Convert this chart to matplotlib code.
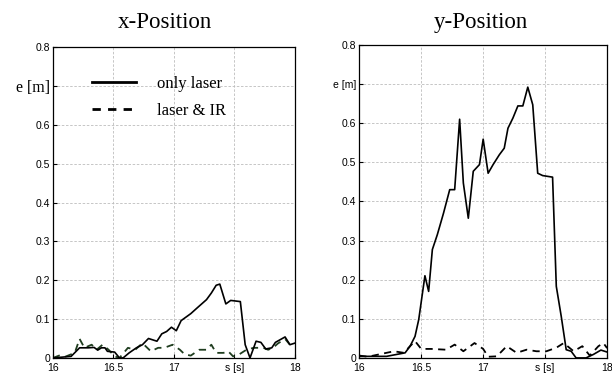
import matplotlib
matplotlib.use("Agg")
import matplotlib.pyplot as plt

# x-Position, only laser
xs_laser = [16.0, 16.15, 16.22, 16.29, 16.34, 16.37, 16.40, 16.43, 16.45, 16.51, 16.55, 16.58,
            16.63, 16.69, 16.74, 16.79, 16.86, 16.90, 16.94, 16.98, 17.02, 17.06, 17.14, 17.19,
            17.27, 17.31, 17.35, 17.38, 17.43, 17.47, 17.55, 17.59, 17.63, 17.68, 17.72, 17.76,
            17.81, 17.84, 17.92, 17.96, 18.0]
xe_laser = [0.0, 0.004, 0.026, 0.026, 0.027, 0.020, 0.026, 0.026, 0.017, 0.015, 0.0, 0.0,
            0.013, 0.026, 0.034, 0.050, 0.043, 0.062, 0.068, 0.079, 0.070, 0.096, 0.114, 0.128,
            0.150, 0.167, 0.187, 0.190, 0.139, 0.148, 0.145, 0.034, 0.0, 0.043, 0.040, 0.023,
            0.026, 0.040, 0.054, 0.034, 0.038]

# x-Position, laser & IR
xs_ir = [16.0, 16.05, 16.1, 16.18, 16.22, 16.26, 16.32, 16.36, 16.41, 16.46, 16.51, 16.55,
         16.62, 16.68, 16.74, 16.81, 16.87, 16.92, 16.99, 17.05, 17.09, 17.14, 17.21, 17.27,
         17.31, 17.35, 17.41, 17.45, 17.49, 17.54, 17.60, 17.66, 17.74, 17.78, 17.82, 17.86,
         17.92, 17.96, 18.0]
xe_ir = [0.0, 0.006, 0.003, 0.013, 0.049, 0.026, 0.034, 0.021, 0.034, 0.021, 0.004, 0.0,
         0.026, 0.021, 0.038, 0.017, 0.026, 0.026, 0.034, 0.021, 0.009, 0.006, 0.021, 0.021,
         0.034, 0.013, 0.013, 0.017, 0.004, 0.009, 0.021, 0.026, 0.026, 0.021, 0.026, 0.037,
         0.049, 0.034, 0.038]

# y-Position, only laser
ys_laser = [16.0, 16.22, 16.37, 16.41, 16.45, 16.48, 16.53, 16.56, 16.59, 16.63, 16.68, 16.73,
            16.77, 16.81, 16.84, 16.88, 16.92, 16.97, 17.00, 17.04, 17.08, 17.13, 17.17, 17.20,
            17.24, 17.28, 17.32, 17.36, 17.40, 17.44, 17.48, 17.56, 17.59, 17.63, 17.67, 17.71,
            17.75, 17.83, 17.89, 17.95, 18.0]
ye_laser = [0.004, 0.004, 0.013, 0.030, 0.055, 0.098, 0.210, 0.170, 0.277, 0.315, 0.370, 0.430,
            0.430, 0.610, 0.447, 0.357, 0.477, 0.494, 0.559, 0.472, 0.494, 0.519, 0.536, 0.587,
            0.613, 0.644, 0.644, 0.692, 0.647, 0.472, 0.466, 0.462, 0.183, 0.106, 0.021, 0.017,
            0.0, 0.0, 0.009, 0.020, 0.015]

# y-Position, laser & IR
ys_ir = [16.0, 16.07, 16.28, 16.36, 16.41, 16.45, 16.50, 16.58, 16.70, 16.77, 16.84, 16.93,
         17.00, 17.04, 17.11, 17.19, 17.27, 17.35, 17.43, 17.51, 17.59, 17.65, 17.73, 17.80,
         17.86, 17.93, 17.97, 18.0]
ye_ir = [0.006, 0.003, 0.017, 0.013, 0.030, 0.043, 0.023, 0.023, 0.021, 0.034, 0.017, 0.038,
         0.023, 0.003, 0.004, 0.030, 0.013, 0.021, 0.017, 0.017, 0.026, 0.038, 0.017, 0.030,
         0.006, 0.030, 0.038, 0.025]

xticks = [16, 16.5, 17, 17.5, 18]
xtick_labels = ["16", "16.5", "17", "s [s]", "18"]
yticks = [0, 0.1, 0.2, 0.3, 0.4, 0.5, 0.6, 0.7, 0.8]
ytick_labels = ["0", "0.1", "0.2", "0.3", "0.4", "0.5", "0.6", "e [m]", "0.8"]

plt.rcParams['font.family'] = ['Liberation Sans', 'DejaVu Sans']
serif = 'Liberation Serif'

fig = plt.figure(figsize=(6.12, 3.74), dpi=100)
ax1 = fig.add_axes([0.0866, 0.043, 0.395, 0.831])
ax2 = fig.add_axes([0.587, 0.043, 0.405, 0.837])

def setup(ax):
    ax.set_xlim(16, 18)
    ax.set_ylim(0, 0.8)
    ax.set_xticks(xticks)
    ax.set_xticklabels(xtick_labels)
    ax.set_yticks(yticks)
    ax.set_yticklabels(ytick_labels)
    ax.tick_params(direction='in', length=3, labelsize=7.5, pad=2)
    ax.tick_params(axis='x', pad=3.5)
    ax.grid(True, color='#bdbdbd', linestyle=(0, (3, 2)), linewidth=0.6)
    for s in ax.spines.values():
        s.set_linewidth(0.9)

setup(ax1)
setup(ax2)
fig.text(0.27, 0.94, "x-Position", family=serif, fontsize=16.5, ha='center', va='center')
fig.text(0.786, 0.94, "y-Position", family=serif, fontsize=16.5, ha='center', va='center')

# left e [m] label is serif
ax1.get_yticklabels()[7].set_family(serif)
ax1.get_yticklabels()[7].set_fontsize(11.5)

ax1.plot(xs_ir, xe_ir, color='#1f3d1f', linestyle=(0, (4, 3)), linewidth=1.3, label='laser & IR')
ax1.plot(xs_laser, xe_laser, color='black', linewidth=1.2, label='only laser')
ax2.plot(ys_ir, ye_ir, color='black', linestyle=(0, (4, 3)), linewidth=1.3)
ax2.plot(ys_laser, ye_laser, color='black', linewidth=1.2)

h, l = ax1.get_legend_handles_labels()
leg = ax1.legend([h[1], h[0]], [l[1], l[0]], loc='upper left', bbox_to_anchor=(0.1, 0.955),
                 frameon=False, handlelength=2.6, handletextpad=1.3, labelspacing=0.65,
                 prop={'family': serif, 'size': 12})
leg.get_lines()[0].set_linewidth(2.0)
leg.get_lines()[1].set_linewidth(2.0)
leg.get_lines()[1].set_color('black')
leg.get_lines()[1].set_dashes((3.0, 2.6))

fig.savefig("out.png", dpi=100)
